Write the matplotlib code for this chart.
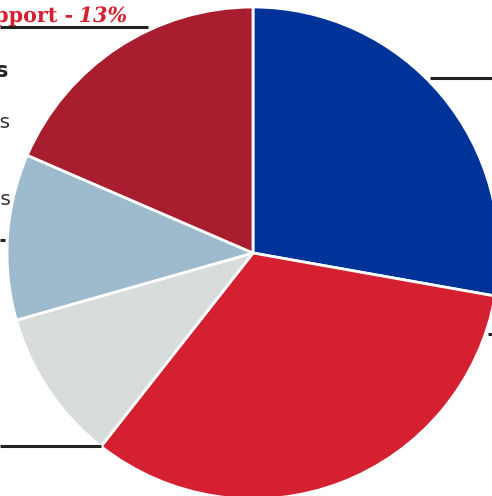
import matplotlib.pyplot as plt
import matplotlib.transforms as mtransforms
from matplotlib.textpath import TextPath
from matplotlib.font_manager import FontProperties
from matplotlib.patches import PathPatch

# share of each slice, clockwise from 12 o'clock
shares = [27.8, 32.8, 10.0, 10.9, 18.5]
colors = ['#003399', '#D42030', '#D8DCDB', '#9DBBCC', '#A91E2F']

W, H = 492, 496
fig = plt.figure(figsize=(W / 100, H / 100), dpi=100)
ax = fig.add_axes([0, 0, 1, 1])

def py(y):
    # pixel row (from top) -> data y
    return H - y

ax.pie(shares, colors=colors, startangle=90, counterclock=False,
       center=(253, py(253)), radius=246, frame=True,
       wedgeprops=dict(edgecolor='white', linewidth=2))
ax.set_xlim(0, W)
ax.set_ylim(0, H)
ax.axis('off')

#=========================================================================================
# wide slab-style heading: text drawn as paths, stretched sideways
red = '#D42030'
fp_b = FontProperties(family='DejaVu Serif', weight='bold')
fp_bi = FontProperties(family='DejaVu Serif', weight='bold', style='italic')
tp_pct = TextPath((0, 0), '13%', size=21, prop=fp_bi)
tp_lab = TextPath((0, 0), 'Support -', size=21, prop=fp_b)
ext = tp_pct.get_extents()
sx = 46 / ext.width
tr1 = mtransforms.Affine2D().scale(sx, 1).translate(126 - ext.x1 * sx, py(22))
ext2 = tp_lab.get_extents()
tr2 = mtransforms.Affine2D().scale(sx, 1).translate(72 - ext2.x1 * sx, py(22))
ax.add_patch(PathPatch(tr1.transform_path(tp_pct), facecolor=red, lw=0))
ax.add_patch(PathPatch(tr2.transform_path(tp_lab), facecolor=red, lw=0))

ax.text(9, py(77), 'Academics', color='#222222', fontsize=15, fontweight='bold',
        ha='right', va='baseline')
ax.text(11, py(128), 'Services', color='#333333', fontsize=14.5,
        ha='right', va='baseline')
ax.text(11, py(205), 'Programs', color='#333333', fontsize=14.5,
        ha='right', va='baseline')

# leader lines
lc = '#222222'
ax.plot([0, 148], [py(26.5), py(26.5)], color=lc, lw=2.2, solid_capstyle='butt')
ax.plot([0, 5], [py(240), py(240)], color=lc, lw=2.2, solid_capstyle='butt')
ax.plot([430, W], [py(78), py(78)], color=lc, lw=2.2, solid_capstyle='butt')
ax.plot([488, W], [py(334), py(334)], color=lc, lw=2.2, solid_capstyle='butt')
ax.plot([0, 101], [py(446), py(446)], color=lc, lw=2.2, solid_capstyle='butt')

fig.savefig('out.png', dpi=100)
